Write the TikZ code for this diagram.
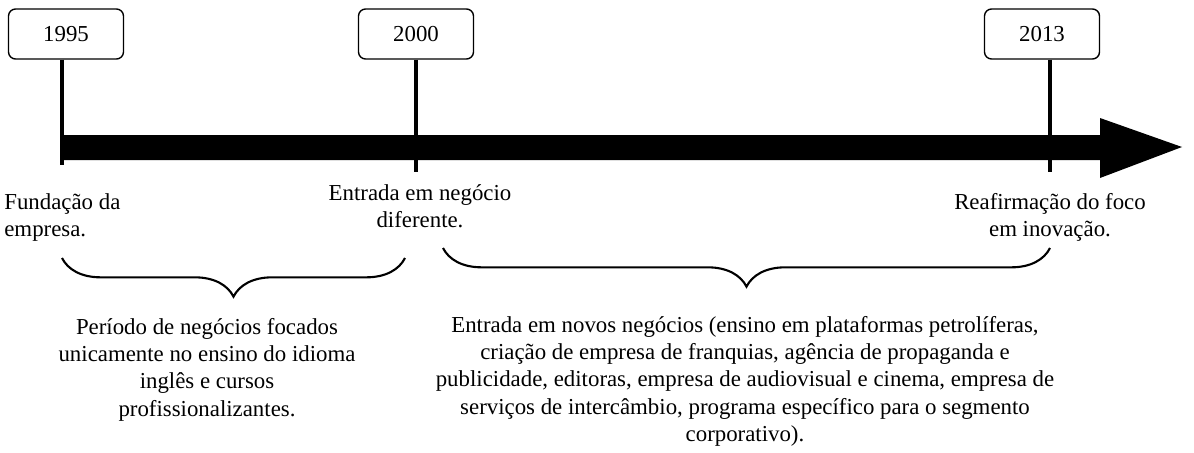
\documentclass[tikz,border=0pt]{standalone}
\usepackage{fontspec}
\setmainfont{Liberation Serif}
\usetikzlibrary{decorations.pathreplacing}
\begin{document}
\begin{tikzpicture}[x=0.02cm,y=-0.02cm,
  yearbox/.style={draw,rounded corners=4pt,line width=0.8pt,minimum width=2.3cm,minimum height=1.0cm,font=\fontsize{13}{15.5}\selectfont},
  lbl/.style={font=\fontsize{13}{15.5}\selectfont,align=center,inner sep=0pt},
  tick/.style={line width=2.5pt},
  brc/.style={decorate,decoration={brace,amplitude=22pt,mirror},line width=1.2pt}]
\useasboundingbox (0,0) rectangle (1194,453);
\node[yearbox] (y1) at (66,34) {1995};
\node[yearbox] (y2) at (416,34) {2000};
\node[yearbox] (y3) at (1042,34) {2013};
\coordinate (b1) at (62,165);
\coordinate (b2) at (416,172);
\coordinate (b3) at (1050,172);
\draw[tick] (y1.south -| b1) -- (b1);
\draw[tick] (y2.south) -- (b2);
\draw[tick] (y3.south -| b3) -- (b3);
\coordinate (as) at (62,147);
\coordinate (ae) at (1182,147);
\fill (62,135) -- (1100,135) -- (1100,118) -- (ae) -- (1100,178) -- (1100,160) -- (62,160) -- cycle;
\node[lbl,align=left,anchor=north west] (t1) at (4,193) {Fundação da\\empresa.};
\node[lbl,anchor=north] (t2) at (420,184) {Entrada em negócio\\diferente.};
\node[lbl,anchor=north] (t3) at (1050,193) {Reafirmação do foco\\em inovação.};
\draw[brc] (62,258) -- (405,258);
\draw[brc] (443,248) -- (1050,248);
\node[lbl,anchor=north] (d1) at (207,318) {Período de negócios focados\\unicamente no ensino do idioma\\inglês e cursos\\profissionalizantes.};
\node[lbl,anchor=north] (d2) at (745,316) {Entrada em novos negócios (ensino em plataformas petrolíferas,\\criação de empresa de franquias, agência de propaganda e\\publicidade, editoras, empresa de audiovisual e cinema, empresa de\\serviços de intercâmbio, programa específico para o segmento\\corporativo).};
\end{tikzpicture}
\end{document}
